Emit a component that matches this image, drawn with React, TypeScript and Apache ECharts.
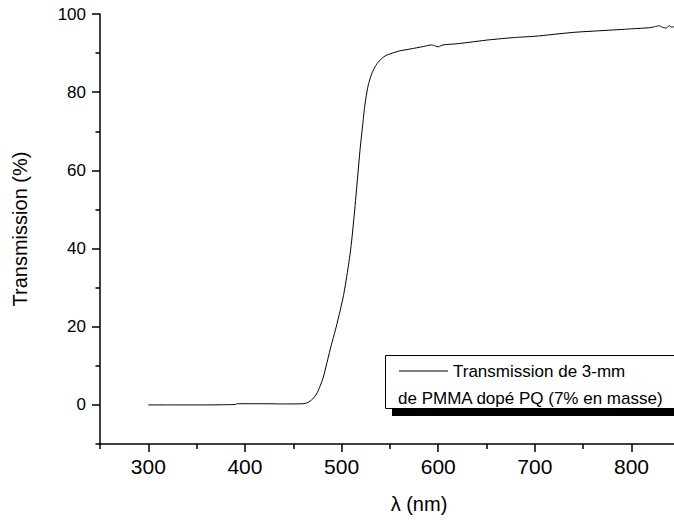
import React, { useEffect, useRef } from "react";
import * as echarts from "echarts";

const wavelengths: number[] = [
  300, 320, 340, 360, 380, 390, 392, 420, 440, 460, 465, 470, 475, 481, 488,
  495, 502, 507, 510, 514, 519, 522, 524, 526, 528, 531, 534, 537, 541, 546, 559, 570,
  585, 593, 597, 600, 605, 620, 653, 680, 700, 740, 780, 800, 819, 825, 829,
  832, 836, 839, 842, 844,
];
const transmission: number[] = [
  0, 0, 0, 0, 0.05, 0.1, 0.3, 0.3, 0.25, 0.3, 0.6, 1.5, 3.2, 7, 14,
  20.5, 28, 35.5, 41, 51, 65, 72, 76.5, 79.8, 82.2, 84.6, 86.2, 87.4, 88.5, 89.4, 90.5, 91,
  91.7, 92.1, 91.8, 91.6, 92.1, 92.4, 93.4, 94.0, 94.3, 95.3, 95.9, 96.2, 96.5, 96.8, 97.0,
  96.6, 96.4, 97.0, 96.6, 96.8,
];
const xMajorTicks: number[] = [300, 400, 500, 600, 700, 800];
const xMinorTicks: number[] = [250, 350, 450, 550, 650, 750];
const yMajorTicks: number[] = [0, 20, 40, 60, 80, 100];
const yMinorTicks: number[] = [-10, 10, 30, 50, 70, 90];
const seriesName = "Transmission de 3-mm";
const legendLine2 = "de PMMA dopé PQ (7% en masse)";

const FONT = "'Liberation Sans', Arial, sans-serif";

export default function App() {
  const ref = useRef<HTMLDivElement>(null);
  useEffect(() => {
    if (!ref.current) return;
    const chart = echarts.init(ref.current, undefined, { renderer: "svg" });
    const axisLine = { show: true, onZero: false, lineStyle: { color: "#000", width: 1.5 } };
    const data = wavelengths.map((w, i) => [w, transmission[i]]);
    chart.setOption({
      animation: false,
      backgroundColor: "#fff",
      grid: { left: 100, right: 0, top: 14, bottom: 76, containLabel: false },
      xAxis: [
        {
          type: "value",
          min: 250,
          max: 844,
          position: "bottom",
          axisLine,
          axisTick: { show: true, customValues: xMajorTicks, length: 8, lineStyle: { color: "#000", width: 1.5 } },
          axisLabel: { show: true, customValues: xMajorTicks, fontSize: 21, color: "#000", margin: 12, fontFamily: FONT },
          splitLine: { show: false },
          name: "λ (nm)",
          nameLocation: "middle",
          nameGap: 50,
          nameTextStyle: { fontSize: 20, color: "#000", fontFamily: FONT, padding: [0, 0, 0, 64] },
        },
        {
          type: "value",
          min: 250,
          max: 844,
          position: "bottom",
          axisLine: { show: false, onZero: false },
          axisTick: { show: true, customValues: xMinorTicks, length: 5, lineStyle: { color: "#000", width: 1.5 } },
          axisLabel: { show: false },
          splitLine: { show: false },
        },
      ],
      yAxis: [
        {
          type: "value",
          min: -10,
          max: 100,
          position: "left",
          axisLine,
          axisTick: { show: true, customValues: yMajorTicks, length: 8, lineStyle: { color: "#000", width: 1.5 } },
          axisLabel: { show: true, customValues: yMajorTicks, fontSize: 17, color: "#000", margin: 14, fontFamily: FONT },
          splitLine: { show: false },
          name: "Transmission (%)",
          nameLocation: "middle",
          nameGap: 70,
          nameTextStyle: { fontSize: 20, color: "#000", fontFamily: FONT },
        },
        {
          type: "value",
          min: -10,
          max: 100,
          position: "left",
          axisLine: { show: false, onZero: false },
          axisTick: { show: true, customValues: yMinorTicks, length: 4.5, lineStyle: { color: "#000", width: 1.5 } },
          axisLabel: { show: false },
          splitLine: { show: false },
        },
      ],
      series: [
        {
          name: seriesName,
          type: "line",
          xAxisIndex: 0,
          yAxisIndex: 0,
          data,
          showSymbol: false,
          smooth: 0.2,
          lineStyle: { color: "#000", width: 1 },
        },
      ],
      graphic: [
        { type: "rect", shape: { x: 392, y: 408, width: 300, height: 8 }, style: { fill: "#000" }, z: 100 },
        { type: "rect", shape: { x: 385.5, y: 355.5, width: 300, height: 53 }, style: { fill: "#fff", stroke: "#000", lineWidth: 1 }, z: 101 },
        { type: "line", shape: { x1: 399, y1: 371, x2: 448, y2: 371 }, style: { stroke: "#000", lineWidth: 1 }, z: 102 },
        { type: "text", x: 453, y: 371, style: { text: seriesName, font: `17px ${FONT}`, fill: "#000", verticalAlign: "middle", align: "left" }, z: 102 },
        { type: "text", x: 398, y: 398, style: { text: legendLine2, font: `17px ${FONT}`, fill: "#000", verticalAlign: "middle", align: "left" }, z: 102 },
      ],
    });
    return () => chart.dispose();
  }, []);
  return <div ref={ref} style={{ position: "fixed", left: 0, top: 0, width: 674, height: 520 }} />;
}
